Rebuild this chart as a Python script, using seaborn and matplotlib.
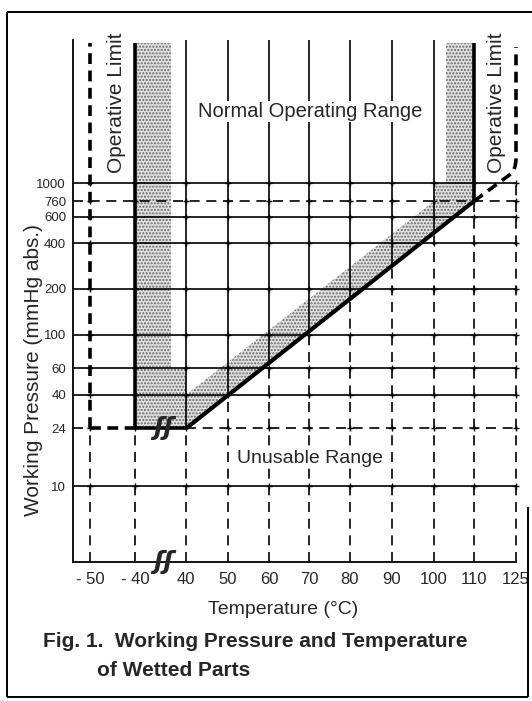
"""
Fig. 1: working pressure and temperature of wetted parts

"""

# %%

import numpy as np
import matplotlib.pyplot as plt
import seaborn as sns
from matplotlib.lines import Line2D
from matplotlib.ticker import NullLocator

# %%
# temperature marks on the x axis (axis broken between -40 and 40)
temp_ticks = [-50, -40, 40, 50, 60, 70, 80, 90, 100, 110, 125]
temp_labels = ["- 50", "- 40", "40", "50", "60", "70", "80", "90", "100", "110", "125"]

# pressure marks on the y axis, mmHg abs.
press_ticks = [10, 24, 40, 60, 100, 200, 400, 600, 760, 1000]
min_press = 24
atm_press = 760

# lower working limit (rising line from 40 C to 110 C)
limit_temp = [40, 110]
limit_press = [24, 760]

# operative limits
op_low_temp = -50
op_high_temp = [110, 124, 124.7, 125, 125]
op_high_press = [760, 1180, 1300, 1420, 7900]

# shaded margins
shade_left_temp = [-40, 16, 16, 40, 40, -40]
shade_left_press = [8400, 8400, 60, 60, 24, 24]
shade_band_temp = [40, 110, 110, 103, 103, 100, 100, 40]
shade_band_press = [24, 760, 8400, 8400, 1000, 1000, 760, 40]

# %%
# x axis is not to scale: temperature -> position along the axis
x_anchor_temp = [-54, -50, -40, 40, 50, 60, 70, 80, 90, 100, 110, 125]
x_anchor_pos = [73, 90, 135, 186, 228, 269, 309, 350, 392, 434, 474, 516]


def fwd(t):
    return np.interp(t, x_anchor_temp, x_anchor_pos)


def inv(p):
    return np.interp(p, x_anchor_pos, x_anchor_temp)


W, H = 532, 701


def fig_xy(x, y):
    return x / W, 1 - y / H


sns.set_style("white")
plt.rcParams["font.family"] = ["Liberation Sans", "DejaVu Sans"]
plt.rcParams["lines.solid_capstyle"] = "butt"

fig = plt.figure(figsize=(W / 100, H / 100), dpi=100)
ax = fig.add_axes([73 / W, (H - 562) / H, (516 - 73) / W, (562 - 40) / H])
ax.set_xscale("function", functions=(fwd, inv))
ax.set_yscale("log")
ax.set_xlim(-54, 125)
ax.set_ylim(3.15, 8800)
y_lo, y_hi = ax.get_ylim()
x_lo, x_hi = ax.get_xlim()

thin = 1.2
thick = 2.6
thin_dash = (6, 4)
thick_dash = (3, 1.8)
kw = dict(color="k", clip_on=False)

# stippled margins
for tt, pp in [(shade_left_temp, shade_left_press), (shade_band_temp, shade_band_press)]:
    ax.fill(tt, pp, facecolor="#e0e0e0", edgecolor="#666666", hatch=".....",
            linewidth=0, zorder=1)

# horizontal grid
for p in press_ticks:
    if p == min_press:
        ax.plot([x_lo, op_low_temp], [p, p], lw=thin, dashes=thin_dash, zorder=2, **kw)
        ax.plot([op_low_temp, -40], [p, p], lw=thick, dashes=thick_dash, zorder=3, **kw)
        ax.plot([-40, 40], [p, p], lw=thick, zorder=3, **kw)
        ax.plot([40, x_hi], [p, p], lw=thin, dashes=thin_dash, zorder=2, **kw)
    elif p == atm_press:
        ax.plot([x_lo, x_hi], [p, p], lw=thin, dashes=thin_dash, zorder=2, **kw)
    else:
        ax.plot([x_lo, x_hi], [p, p], lw=thin, zorder=2, **kw)

# vertical grid: dashed below the limit, solid above
for t in temp_ticks:
    if t <= 40:
        p_cross = min_press
    elif t <= 110:
        p_cross = np.exp(np.interp(t, limit_temp, np.log(limit_press)))
    else:
        p_cross = 1000
    ax.plot([t, t], [y_lo, p_cross], lw=thin, dashes=thin_dash, zorder=2, **kw)
    if t == op_low_temp:
        ax.plot([t, t], [p_cross, 8400], lw=thick, dashes=thick_dash, zorder=3, **kw)
    elif t in (-40, 110):
        ax.plot([t, t], [p_cross, 8400], lw=thick, zorder=3, **kw)
    elif t < 125:
        ax.plot([t, t], [p_cross, y_hi], lw=thin, zorder=2, **kw)

# small crosses at grid intersections
tt, pp = np.meshgrid(temp_ticks, press_ticks)
ax.plot(tt.ravel(), pp.ravel(), ls="none", marker="+", ms=5, mew=1, zorder=2, **kw)

# lower limit line and right operative limit
sns.lineplot(x=limit_temp, y=limit_press, ax=ax, color="k", lw=3, sort=False, zorder=4)
ax.plot(op_high_temp, op_high_press, lw=thick, dashes=thick_dash, zorder=3, **kw)

# axis break marks
for p in [min_press, y_lo]:
    ax.text(4, p, "ʃʃ", ha="center", va="center", fontsize=18, family="DejaVu Sans",
            style="italic", fontweight="bold", zorder=6, clip_on=False)

ax.set_xticks(temp_ticks, temp_labels)
ax.set_yticks(press_ticks, [str(p) for p in press_ticks])
ax.yaxis.set_minor_locator(NullLocator())
ax.xaxis.set_minor_locator(NullLocator())
ax.tick_params(axis="x", length=0, pad=7, labelsize=12)
ax.tick_params(axis="y", length=0, pad=5, labelsize=9.5)
ax.grid(False)
for side in ["top", "right"]:
    ax.spines[side].set_visible(False)
for side in ["left", "bottom"]:
    ax.spines[side].set_color("k")
    ax.spines[side].set_linewidth(1.3)
ax.set_facecolor("none")

# region labels
box = dict(facecolor="white", edgecolor="none", pad=1)
ax.text(*fig_xy(310, 117), "Normal Operating Range", transform=fig.transFigure,
        ha="center", va="baseline", fontsize=14.5, bbox=box, zorder=6)
ax.text(*fig_xy(310, 463), "Unusable Range", transform=fig.transFigure,
        ha="center", va="baseline", fontsize=14, bbox=box, zorder=6)
ax.text(*fig_xy(117, 103), "Operative Limit", transform=fig.transFigure,
        ha="center", va="center", rotation=90, fontsize=15, zorder=6)
ax.text(*fig_xy(497, 103), "Operative Limit", transform=fig.transFigure,
        ha="center", va="center", rotation=90, fontsize=15, zorder=6)

fig.text(*fig_xy(34, 370), "Working Pressure (mmHg abs.)", rotation=90,
         ha="center", va="center", fontsize=15)
fig.text(*fig_xy(283, 609), "Temperature (°C)", ha="center", va="center", fontsize=14)
fig.text(*fig_xy(43, 647), "Fig. 1.  Working Pressure and Temperature",
         ha="left", va="baseline", fontsize=15, fontweight="bold")
fig.text(*fig_xy(97, 676), "of Wetted Parts", ha="left", va="baseline",
         fontsize=15, fontweight="bold")

# page frame
for xs, ys in [([7, 532], [12, 12]), ([7, 7], [12, 697]),
               ([7, 528], [697, 697]), ([528, 528], [507, 697])]:
    fig.add_artist(Line2D([x / W for x in xs], [1 - y / H for y in ys],
                          transform=fig.transFigure, color="k", lw=1.4))

fig.savefig("out.png", dpi=100)
